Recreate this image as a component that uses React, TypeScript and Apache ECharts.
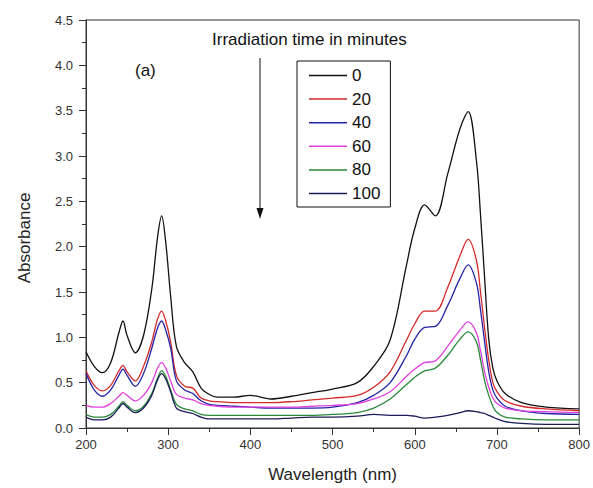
import React, { useEffect, useRef } from "react";
import * as echarts from "echarts";

const wavelengths = [200,210,220,230,240,245,250,260,270,280,287,292,297,303,310,320,330,340,350,360,380,400,425,450,475,500,530,550,570,590,600,612,625,640,655,665,675,680,685,690,695,700,710,730,760,800];

const t0 = [0.84,0.68,0.61,0.72,1.05,1.18,1.02,0.83,1.02,1.53,2.1,2.34,2.05,1.45,0.9,0.72,0.62,0.44,0.37,0.34,0.34,0.36,0.32,0.35,0.39,0.43,0.5,0.68,0.97,1.8,2.2,2.46,2.34,2.8,3.3,3.49,2.95,2.35,1.65,0.98,0.66,0.52,0.38,0.28,0.23,0.21];
const t20 = [0.63,0.47,0.41,0.47,0.63,0.69,0.62,0.52,0.68,0.95,1.2,1.29,1.18,0.95,0.58,0.46,0.44,0.33,0.3,0.29,0.28,0.28,0.28,0.29,0.31,0.33,0.36,0.45,0.62,0.97,1.15,1.29,1.29,1.55,1.9,2.08,1.85,1.5,1.1,0.75,0.5,0.4,0.3,0.24,0.21,0.19];
const t40 = [0.6,0.42,0.35,0.42,0.58,0.65,0.58,0.46,0.6,0.88,1.1,1.18,1.08,0.88,0.52,0.42,0.38,0.3,0.26,0.25,0.24,0.23,0.22,0.22,0.22,0.23,0.28,0.36,0.5,0.8,0.98,1.11,1.12,1.35,1.65,1.8,1.6,1.3,0.95,0.62,0.42,0.33,0.24,0.19,0.16,0.15];
const t60 = [0.25,0.23,0.23,0.27,0.35,0.39,0.36,0.3,0.36,0.5,0.66,0.72,0.66,0.52,0.37,0.33,0.31,0.27,0.25,0.24,0.23,0.23,0.23,0.23,0.24,0.25,0.27,0.32,0.4,0.57,0.65,0.72,0.74,0.9,1.08,1.17,1.05,0.85,0.62,0.45,0.33,0.27,0.22,0.19,0.18,0.17];
const t80 = [0.15,0.12,0.12,0.15,0.24,0.29,0.25,0.19,0.24,0.38,0.55,0.63,0.57,0.42,0.26,0.21,0.19,0.15,0.14,0.14,0.14,0.14,0.14,0.14,0.14,0.15,0.17,0.22,0.32,0.48,0.56,0.63,0.66,0.8,0.98,1.06,0.95,0.75,0.52,0.36,0.24,0.17,0.12,0.1,0.09,0.09];
const t100 = [0.12,0.09,0.09,0.12,0.22,0.27,0.23,0.17,0.22,0.36,0.53,0.6,0.54,0.4,0.22,0.18,0.16,0.12,0.1,0.1,0.1,0.1,0.1,0.11,0.12,0.12,0.13,0.15,0.14,0.14,0.13,0.11,0.12,0.14,0.17,0.19,0.18,0.17,0.16,0.14,0.12,0.1,0.07,0.05,0.04,0.04];

const seriesNames = ["0", "20", "40", "60", "80", "100"];
const seriesValues = [t0, t20, t40, t60, t80, t100];
const seriesColors = ["#111111", "#d42a2a", "#2323a8", "#e040e0", "#2a8a3a", "#1c1c5a"];

const yTicks = [0, 0.5, 1, 1.5, 2, 2.5, 3, 3.5, 4, 4.5];
const xTicks = [200, 300, 400, 500, 600, 700, 800];

const FONT = "Liberation Sans, Arial, sans-serif";

export default function App() {
  const ref = useRef<HTMLDivElement>(null);
  useEffect(() => {
    if (!ref.current) return;
    const chart = echarts.init(ref.current, null, { renderer: "svg" });
    const option: any = {
      animation: false,
      backgroundColor: "#ffffff",
      textStyle: { fontFamily: FONT },
      grid: {
        left: 86,
        right: 10,
        top: 20,
        bottom: 59,
        show: true,
        borderColor: "#333",
        borderWidth: 1,
      },
      legend: {
        orient: "vertical",
        left: 297,
        top: 61,
        data: seriesNames,
        icon: "rect",
        borderColor: "#111",
        borderWidth: 1,
        borderRadius: 0,
        padding: [6, 10, 5, 12],
        itemWidth: 38,
        itemHeight: 1.5,
        itemGap: 6.6,
        itemTextGap: 5,
        textStyle: { fontSize: 17, color: "#111", fontFamily: FONT },
      },
      xAxis: {
        type: "value",
        min: xTicks[0],
        max: xTicks[xTicks.length - 1],
        interval: 100,
        name: "Wavelength (nm)",
        nameLocation: "middle",
        nameGap: 38,
        nameTextStyle: { fontSize: 17, color: "#222", fontFamily: FONT },
        axisLine: { show: true, lineStyle: { color: "#333", width: 1 } },
        axisTick: { show: true, inside: false, length: 7, lineStyle: { color: "#333" } },
        minorTick: { show: true, splitNumber: 2, length: 4, lineStyle: { color: "#333" } },
        splitLine: { show: false },
        axisLabel: { fontSize: 13, color: "#333", margin: 10, fontFamily: FONT },
      },
      yAxis: {
        type: "value",
        min: yTicks[0],
        max: yTicks[yTicks.length - 1],
        interval: 0.5,
        name: "Absorbance",
        nameLocation: "middle",
        nameGap: 53,
        nameTextStyle: { fontSize: 17, color: "#222", fontFamily: FONT, padding: [0, 28, 0, 0] },
        axisLine: { show: true, lineStyle: { color: "#333", width: 1 } },
        axisTick: { show: true, inside: false, length: 7, lineStyle: { color: "#333" } },
        minorTick: { show: true, splitNumber: 2, length: 4, lineStyle: { color: "#333" } },
        splitLine: { show: false },
        axisLabel: {
          fontSize: 13,
          color: "#333",
          margin: 13,
          fontFamily: FONT,
          formatter: (v: number) => v.toFixed(1),
        },
      },
      series: seriesNames.map((name, i) => ({
        name,
        type: "line",
        data: wavelengths.map((w, j) => [w, seriesValues[i][j]]),
        smooth: 0.35,
        symbol: "none",
        showSymbol: false,
        color: seriesColors[i],
        lineStyle: { color: seriesColors[i], width: 1.3 },
      })),
      graphic: [
        {
          type: "text",
          left: 212,
          top: 31,
          style: { text: "Irradiation time in minutes", fontSize: 17, fill: "#111", fontFamily: FONT },
        },
        {
          type: "text",
          left: 135,
          top: 62,
          style: { text: "(a)", fontSize: 17, fill: "#111", fontFamily: FONT },
        },
        {
          type: "line",
          shape: { x1: 260, y1: 58, x2: 260, y2: 212 },
          style: { stroke: "#111", lineWidth: 1 },
        },
        {
          type: "polygon",
          shape: { points: [[256.5, 208], [263.5, 208], [260, 219]] },
          style: { fill: "#111" },
        },
      ],
    };
    chart.setOption(option);
    return () => chart.dispose();
  }, []);
  return (
    <div
      ref={ref}
      style={{ position: "fixed", left: 0, top: 0, width: 593, height: 488, background: "#fff" }}
    />
  );
}
